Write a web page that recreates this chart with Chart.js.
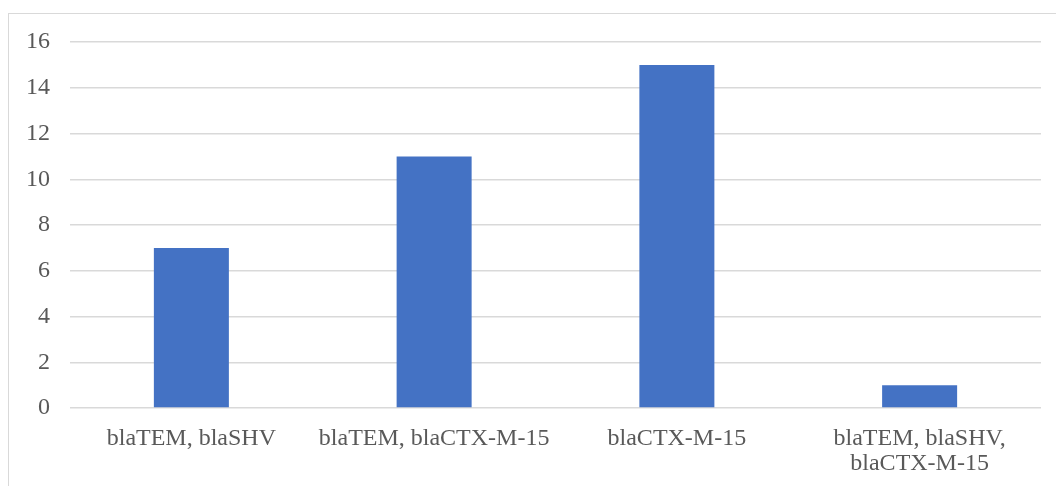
<!DOCTYPE html>
<html>
<head>
<meta charset="utf-8">
<script src="https://cdn.jsdelivr.net/npm/chart.js@4/dist/chart.umd.min.js"></script>
<style>
  html, body { margin: 0; padding: 0; background: #ffffff; overflow: hidden; }
  #frame { position: absolute; left: 8px; top: 13px; width: 1100px; height: 520px; border: 1px solid #d9d9d9; box-sizing: border-box; }
  #wrap { position: absolute; left: 0; top: 0; width: 1056px; height: 486px; }
</style>
</head>
<body>
<div id="frame"></div>
<div id="wrap"><canvas id="chart" width="1056" height="486"></canvas></div>
<script>
// Gene combinations and counts
const categories = [
  "blaTEM, blaSHV",
  "blaTEM, blaCTX-M-15",
  "blaCTX-M-15",
  ["blaTEM, blaSHV,", "blaCTX-M-15"]
];
const counts = [7, 11, 15, 1];
const yTicks = [0, 2, 4, 6, 8, 10, 12, 14, 16];

const labelFont = { family: "'Liberation Serif', 'Times New Roman', serif", size: 24, lineHeight: 1.05 };

new Chart(document.getElementById('chart'), {
  type: 'bar',
  data: {
    labels: categories,
    datasets: [{
      data: counts,
      backgroundColor: '#4472C4',
      borderWidth: 0,
      categoryPercentage: 1,
      barPercentage: 0.309
    }]
  },
  options: {
    responsive: false,
    animation: false,
    layout: { padding: { left: 0, top: 42, right: 15, bottom: 0 } },
    plugins: { legend: { display: false }, tooltip: { enabled: false } },
    scales: {
      x: {
        grid: { display: false, drawTicks: false },
        border: { display: false },
        ticks: { color: '#595959', font: labelFont, padding: 18, maxRotation: 0, autoSkip: false },
        afterFit: (axis) => { axis.height = 78; }
      },
      y: {
        min: yTicks[0],
        max: yTicks[yTicks.length - 1],
        grid: { color: '#d9d9d9', lineWidth: 1.5, drawTicks: false },
        border: { display: false },
        afterBuildTicks: (axis) => { axis.ticks = yTicks.map(v => ({ value: v })); },
        ticks: { color: '#595959', font: labelFont, padding: 20 },
        afterFit: (axis) => { axis.width = 70; }
      }
    }
  }
});
</script>
</body>
</html>
